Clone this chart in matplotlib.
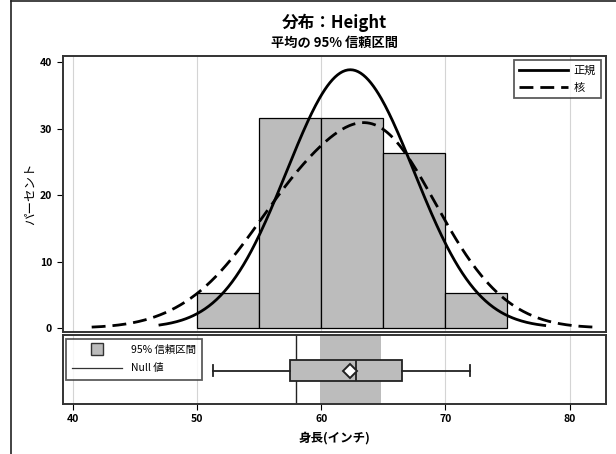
import numpy as np
import matplotlib.pyplot as plt
from matplotlib.lines import Line2D

plt.rcParams['font.family'] = ['Noto Sans CJK JP', 'DejaVu Sans']

# Height values (inches) of the 19 students
heights = [69.0, 56.5, 65.3, 62.8, 63.5, 57.3, 59.8, 62.5, 62.5, 59.0,
           51.3, 64.3, 56.3, 66.5, 72.0, 64.8, 67.0, 57.5, 66.5]
bin_edges = [50, 55, 60, 65, 70, 75]

# box plot stats
box_min, box_q1, box_med, box_q3, box_max = 51.3, 57.5, 62.8, 66.5, 72.0
box_mean = 62.34
ci_low, ci_high = 59.87, 64.81
null_value = 58.0
kernel_bw = 3.9

xticks = [40, 50, 60, 70, 80]
yticks = [0, 10, 20, 30, 40]

fill = '#bcbcbc'
h = np.array(heights)
n = len(h)
mean, sd = h.mean(), h.std(ddof=1)
binw = bin_edges[1] - bin_edges[0]

fig = plt.figure(figsize=(6.16, 4.54), dpi=100)
ax = fig.add_axes([0.1015, 0.269, 0.8815, 0.608])
ax2 = fig.add_axes([0.1015, 0.110, 0.8815, 0.152])

# histogram
ax.hist(h, bins=bin_edges, weights=np.full(n, 100.0 / n), color=fill,
        edgecolor='black', linewidth=0.9, zorder=2)

# normal fit and kernel density, scaled to percent per bin
xs = np.linspace(41.5, 82.3, 400)
xn = np.linspace(47, 78, 300)
normal = 100 * binw * np.exp(-0.5 * ((xn - mean) / sd) ** 2) / (sd * np.sqrt(2 * np.pi))
kern = np.zeros_like(xs)
for v in h:
    kern += np.exp(-0.5 * ((xs - v) / kernel_bw) ** 2)
kern = 100 * binw * kern / (n * kernel_bw * np.sqrt(2 * np.pi))
ax.plot(xn, normal, color='black', lw=2, zorder=3, label='正規')
ax.plot(xs, kern, color='black', lw=2, ls=(0, (5, 2.5)), zorder=3, label='核')

for a in (ax, ax2):
    a.set_xlim(39.15, 82.9)
    a.set_xticks(xticks)
    for x in xticks:
        a.axvline(x, color='#d4d4d4', lw=0.8, zorder=0)
    for s in a.spines.values():
        s.set_linewidth(1.4)
        s.set_color('#333333')

ax.set_ylim(-0.6, 41.0)
ax.set_yticks(yticks)
ax.tick_params(axis='x', bottom=False, labelbottom=False)
ax.tick_params(axis='y', labelsize=7.5, length=4, width=0.8)
for t in ax.get_yticklabels():
    t.set_fontweight('bold')
ax.set_ylabel('パーセント', fontsize=9, labelpad=2)
ax.legend(loc='upper right', fontsize=8, handlelength=4.4, frameon=True,
          fancybox=False, edgecolor='#333333', borderaxespad=0.4, borderpad=0.45,
          labelspacing=0.65, handletextpad=0.5).get_frame().set_linewidth(1.3)

# bottom panel: CI band, null line, box plot
ax2.set_ylim(0, 1)
ax2.set_yticks([])
ax2.axvspan(ci_low, ci_high, color=fill, lw=0, zorder=1)
ax2.axvline(null_value, color='#222222', lw=1.0, zorder=2)
stats = [dict(whislo=box_min, q1=box_q1, med=box_med, q3=box_q3,
              whishi=box_max, mean=box_mean, fliers=[])]
ax2.bxp(stats, positions=[0.486], widths=0.30, orientation='horizontal',
        showmeans=True, patch_artist=True, manage_ticks=False,
        boxprops=dict(facecolor=fill, edgecolor='#222222', lw=1.3),
        medianprops=dict(color='#222222', lw=1.3),
        whiskerprops=dict(color='#222222', lw=1.3),
        capprops=dict(color='#222222', lw=1.3),
        meanprops=dict(marker='D', markerfacecolor='white',
                       markeredgecolor='#222222', markersize=7, markeredgewidth=1.4))
ax2.tick_params(axis='x', labelsize=7.5, length=4, width=0.8)
for t in ax2.get_xticklabels():
    t.set_fontweight('bold')
ax2.set_xlabel('身長(インチ)', fontsize=9, fontweight='bold', labelpad=5)

handles = [Line2D([], [], marker='s', ls='none', markersize=8,
                  markerfacecolor=fill, markeredgecolor='#333333'),
           Line2D([], [], color='#333333', lw=0.9)]
leg2 = ax2.legend(handles, ['95% 信頼区間', 'Null 値'], loc='upper left',
                  fontsize=7.5, handlelength=4.8, frameon=True, fancybox=False,
                  edgecolor='#333333', borderaxespad=0.35, borderpad=0.6,
                  labelspacing=0.8, handletextpad=0.8)
leg2.get_frame().set_linewidth(1.3)

fig.text(0.543, 0.950, '分布：Height', ha='center', va='center',
         fontsize=12, fontweight='bold')
fig.text(0.543, 0.905, '平均の 95% 信頼区間', ha='center', va='center',
         fontsize=9.5, fontweight='bold')

# outer frame (left and top edges)
fig.add_artist(Line2D([11 / 616, 11 / 616], [0, 453 / 454], color='#222222', lw=1.2))
fig.add_artist(Line2D([11 / 616, 1], [453 / 454, 453 / 454], color='#222222', lw=1.2))

fig.savefig('out.png', dpi=100)
